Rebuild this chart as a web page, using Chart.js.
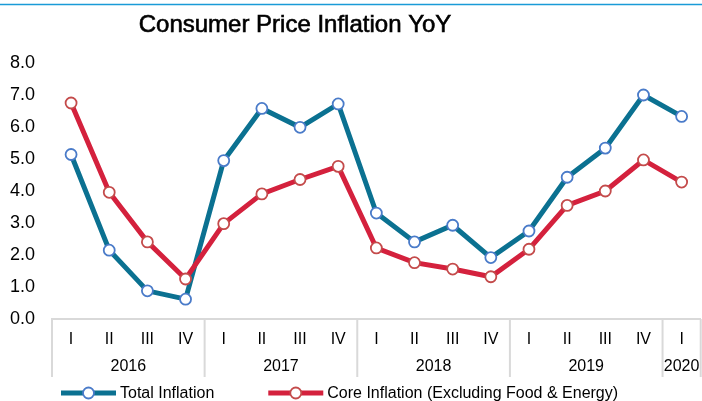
<!DOCTYPE html>
<html>
<head>
<meta charset="utf-8">
<script src="https://cdn.jsdelivr.net/npm/chart.js@4.4.1/dist/chart.umd.min.js"></script>
<style>
    html, body { margin: 0; padding: 0; background: #fff; overflow: hidden; }
    #wrap { position: relative; width: 708px; height: 401px; }
</style>
</head>
<body>
<div id="wrap"><canvas id="cpiChart"></canvas></div>
<script>
// Chart data
const quarters = ['I', 'II', 'III', 'IV', 'I', 'II', 'III', 'IV', 'I', 'II', 'III', 'IV', 'I', 'II', 'III', 'IV', 'I'];
const years = ['2016', '2017', '2018', '2019', '2020'];
const quartersPerYear = [4, 4, 4, 4, 1];
const totalInflation = [5.14, 2.15, 0.88, 0.62, 4.95, 6.58, 5.99, 6.72, 3.31, 2.41, 2.93, 1.92, 2.75, 4.43, 5.34, 7.0, 6.33];
const coreInflation = [6.75, 3.96, 2.41, 1.25, 2.98, 3.91, 4.36, 4.77, 2.22, 1.76, 1.56, 1.32, 2.18, 3.55, 4.0, 4.97, 4.28];
const yMin = 0;
const yMax = 8;
const yStep = 1;

const chartTitle = 'Consumer Price Inflation YoY';
const FONT = '"Liberation Sans", Arial, Helvetica, sans-serif';

const series = [
    { label: 'Total Inflation', data: totalInflation, line: '#0b7191', marker: '#4a7bc9', order: 1 },
    { label: 'Core Inflation (Excluding Food & Energy)', data: coreInflation, line: '#d4213d', marker: '#c44b4b', order: 0 }
];

// thin blue rule at the top + title
const headerPlugin = {
    id: 'header',
    beforeDraw(chart) {
        const ctx = chart.ctx;
        ctx.save();
        ctx.strokeStyle = '#1a9bd7';
        ctx.lineWidth = 1.5;
        ctx.beginPath();
        ctx.moveTo(0, 4.5);
        ctx.lineTo(chart.width, 4.5);
        ctx.stroke();
        ctx.font = '24px ' + FONT;
        ctx.fillStyle = '#000';
        ctx.strokeStyle = '#000';
        ctx.lineWidth = 0.6;
        ctx.textAlign = 'center';
        ctx.textBaseline = 'alphabetic';
        ctx.fillText(chartTitle, 295, 32);
        ctx.strokeText(chartTitle, 295, 32); // Excel renders the title a bit heavier
        ctx.restore();
    }
};

// second level of the category axis: year labels and group separators
const yearAxisPlugin = {
    id: 'yearAxis',
    afterDraw(chart) {
        const x = chart.scales.x;
        const ctx = chart.ctx;
        const half = (x.getPixelForValue(1) - x.getPixelForValue(0)) / 2;
        const top = x.top;
        const edges = [];
        let start = 0;
        ctx.save();
        ctx.font = '16px ' + FONT;
        ctx.fillStyle = '#000';
        ctx.textAlign = 'center';
        ctx.textBaseline = 'middle';
        years.forEach((yr, i) => {
            const n = quartersPerYear[i];
            const left = x.getPixelForValue(start) - half;
            const right = x.getPixelForValue(start + n - 1) + half;
            ctx.fillText(yr, (left + right) / 2, top + 48);
            edges.push(left);
            if (i === years.length - 1) edges.push(right);
            start += n;
        });
        ctx.strokeStyle = '#d9d9d9';
        ctx.lineWidth = 2;
        edges.forEach(e => {
            ctx.beginPath();
            ctx.moveTo(e, top);
            ctx.lineTo(e, top + 58);
            ctx.stroke();
        });
        ctx.restore();
    }
};

// Excel-style legend: line with a marker in the middle
const legendPlugin = {
    id: 'lineLegend',
    afterDraw(chart) {
        const ctx = chart.ctx;
        const y = 393;
        let xPos = 61;
        ctx.save();
        ctx.font = '16px ' + FONT;
        ctx.textBaseline = 'middle';
        ctx.textAlign = 'left';
        chart.data.datasets.forEach(ds => {
            ctx.strokeStyle = ds.borderColor;
            ctx.lineWidth = 5;
            ctx.beginPath();
            ctx.moveTo(xPos, y);
            ctx.lineTo(xPos + 55, y);
            ctx.stroke();
            ctx.fillStyle = '#fff';
            ctx.strokeStyle = ds.pointBorderColor;
            ctx.lineWidth = 1.8;
            ctx.beginPath();
            ctx.arc(xPos + 27.5, y, 5.5, 0, Math.PI * 2);
            ctx.fill();
            ctx.stroke();
            ctx.fillStyle = '#000';
            ctx.fillText(ds.label, xPos + 59, y + 1);
            xPos += 59 + ctx.measureText(ds.label).width + 54;
        });
        ctx.restore();
    }
};

const ctx = document.getElementById('cpiChart').getContext('2d');
const cpiChart = new Chart(ctx, {
    type: 'line',
    data: {
        labels: quarters,
        datasets: series.map(s => ({
            label: s.label,
            data: s.data,
            order: s.order,
            borderColor: s.line,
            backgroundColor: s.line,
            borderWidth: 5,
            tension: 0,
            pointRadius: 5.5,
            pointHoverRadius: 5.5,
            pointBorderWidth: 1.8,
            pointBorderColor: s.marker,
            pointBackgroundColor: '#fff'
        }))
    },
    options: {
        responsive: true,
        maintainAspectRatio: false,
        animation: false,
        layout: { padding: { top: 63, right: 3, bottom: 0, left: 0 } },
        plugins: {
            legend: { display: false },
            title: { display: false },
            tooltip: { enabled: false }
        },
        scales: {
            x: {
                offset: true,
                grid: { display: false, drawTicks: false },
                border: { display: true, color: '#d9d9d9', width: 2 },
                ticks: {
                    color: '#000',
                    font: { family: FONT, size: 16 },
                    padding: 11,
                    maxRotation: 0,
                    autoSkip: false
                },
                afterFit(scale) { scale.height = 82; }
            },
            y: {
                min: yMin,
                max: yMax,
                grid: { display: false, drawTicks: false },
                border: { display: false },
                ticks: {
                    stepSize: yStep,
                    color: '#000',
                    font: { family: FONT, size: 18 },
                    padding: 17,
                    callback: v => v.toFixed(1)
                },
                afterFit(scale) { scale.width = 52; }
            }
        }
    },
    plugins: [headerPlugin, yearAxisPlugin, legendPlugin]
});
</script>
</body>
</html>
